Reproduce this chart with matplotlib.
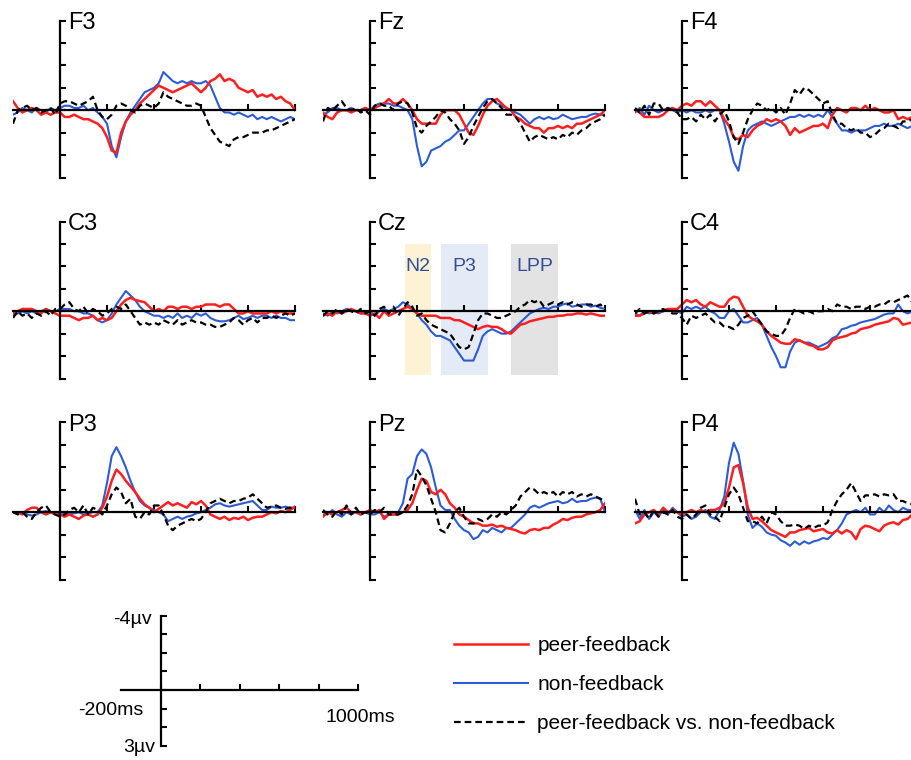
import numpy as np
import matplotlib.pyplot as plt

plt.rcParams['font.family'] = ['Liberation Sans', 'DejaVu Sans']

# time axis (ms), one sample every 20 ms
times = np.arange(-200, 1001, 20)

# amplitudes in microvolts (negative plotted upwards)
f3_peer = [-0.4, -0.1, 0.1, 0.0, -0.1, 0.0, 0.2, 0.1, 0.2, 0.1,
           0.1, 0.3, 0.3, 0.2, 0.3, 0.4, 0.4, 0.5, 0.6, 0.8,
           1.2, 1.8, 1.9, 1.0, 0.5, 0.2, 0.0, -0.3, -0.5, -0.7,
           -0.9, -1.1, -1.0, -0.9, -0.8, -0.9, -1.0, -1.1, -1.2, -1.0,
           -0.8, -1.0, -1.3, -1.4, -1.6, -1.3, -1.4, -1.3, -1.0, -0.9,
           -0.8, -0.9, -0.6, -0.7, -0.6, -0.7, -0.5, -0.6, -0.4, -0.3,
           0.0]
f3_non = [0.2, 0.1, -0.1, 0.0, 0.1, -0.1, 0.0, 0.1, -0.1, 0.0,
          -0.1, -0.2, -0.2, -0.1, -0.1, -0.2, 0.0, -0.1, 0.1, 0.3,
          0.6, 1.6, 2.1, 1.2, 0.5, 0.1, -0.2, -0.5, -0.8, -0.9,
          -1.0, -1.2, -1.7, -1.5, -1.3, -1.2, -1.3, -1.2, -1.3, -1.2,
          -1.2, -1.3, -1.1, -0.6, -0.1, 0.1, 0.1, 0.2, 0.1, 0.2,
          0.3, 0.2, 0.4, 0.3, 0.4, 0.3, 0.4, 0.5, 0.4, 0.3,
          0.4]
f3_diff = [0.6, 0.0, -0.1, -0.2, 0.0, -0.1, 0.1, 0.0, -0.1, 0.2,
           -0.3, -0.4, -0.4, -0.3, -0.2, -0.3, -0.4, -0.6, 0.0, 0.3,
           0.4, 0.2, -0.2, -0.3, -0.2, 0.0, 0.1, -0.2, -0.3, -0.2,
           -0.1, -0.3, -0.8, -0.6, -0.5, -0.4, -0.3, -0.2, -0.2, -0.3,
           -0.2, 0.3, 0.8, 1.1, 1.4, 1.5, 1.6, 1.3, 1.2, 1.2,
           1.1, 1.0, 1.0, 1.0, 0.9, 0.9, 0.8, 0.7, 0.6, 0.5,
           0.4]

fz_peer = [0.1, 0.3, 0.4, 0.1, 0.0, 0.0, 0.1, 0.0, 0.0, -0.1,
           0.0, -0.1, -0.2, -0.3, -0.5, -0.3, -0.3, -0.5, -0.3, 0.0,
           0.4, 0.6, 0.6, 0.6, 0.6, 0.2, 0.0, 0.0, 0.0, 0.2,
           0.6, 1.0, 1.1, 0.7, 0.2, -0.2, -0.4, -0.5, -0.3, -0.1,
           0.0, 0.3, 0.4, 0.6, 0.7, 0.8, 0.8, 1.0, 0.8, 0.8,
           0.7, 0.8, 0.7, 0.8, 0.6, 0.6, 0.5, 0.4, 0.3, 0.2,
           0.0]
fz_non = [0.2, 0.1, -0.1, -0.1, 0.0, 0.0, -0.1, 0.0, 0.0, -0.1,
          0.0, -0.2, -0.3, -0.3, -0.3, -0.2, -0.2, -0.1, 0.0, 0.4,
          1.6, 2.5, 2.3, 1.8, 1.7, 1.6, 1.4, 1.3, 1.1, 0.9,
          0.9, 0.6, 0.3, 0.0, -0.3, -0.5, -0.5, -0.3, -0.2, -0.1,
          0.0, 0.1, 0.2, 0.4, 0.6, 0.4, 0.3, 0.4, 0.3, 0.4,
          0.35, 0.2, 0.3, 0.4, 0.35, 0.3, 0.3, 0.2, 0.15, 0.2,
          0.2]
fz_diff = [0.5, -0.1, 0.0, -0.2, -0.4, -0.1, 0.0, -0.1, 0.1, 0.0,
           0.2, -0.2, -0.3, -0.2, -0.2, 0.0, -0.3, -0.4, -0.3, 0.1,
           0.8, 1.0, 0.7, 0.5, 0.3, 0.0, 0.1, 0.4, 0.6, 0.9,
           1.5, 1.2, 0.7, 0.3, -0.1, -0.4, -0.5, -0.3, -0.1, 0.2,
           0.2, 0.3, 0.6, 1.0, 1.4, 1.2, 1.1, 1.2, 1.3, 1.2,
           1.3, 1.1, 1.2, 1.0, 1.1, 0.9, 0.8, 0.6, 0.5, 0.4,
           0.2]

f4_peer = [0.0, 0.1, 0.3, 0.3, 0.3, 0.3, 0.2, 0.0, -0.1, 0.0,
           -0.2, -0.3, -0.2, -0.4, -0.4, -0.2, -0.4, -0.2, 0.0, 0.4,
           0.7, 1.2, 1.3, 1.1, 1.2, 0.9, 0.7, 0.6, 0.4, 0.5,
           0.4, 0.5, 0.7, 1.1, 0.8, 1.0, 0.9, 0.8, 0.7, 0.7,
           0.6, 0.8, 0.2, -0.1, 0.0, 0.1, -0.1, -0.1, 0.0, -0.2,
           0.0, -0.1, 0.0, 0.1, 0.1, 0.0, 0.4, 0.3, 0.4, 0.3,
           0.3]
f4_non = [0.1, -0.1, 0.2, -0.2, 0.0, 0.1, 0.0, -0.1, 0.0, 0.1,
          0.0, 0.1, 0.0, 0.1, 0.1, 0.0, 0.1, 0.0, 0.0, 0.6,
          1.4, 2.3, 2.7, 1.6, 0.9, 0.7, 0.6, 0.5, 0.6, 0.7,
          0.6, 0.5, 0.4, 0.3, 0.3, 0.2, 0.3, 0.2, 0.3, 0.2,
          0.3, 0.0, 0.3, 0.6, 0.9, 0.9, 1.0, 0.9, 0.9, 0.9,
          0.8, 0.7, 0.7, 0.6, 0.7, 0.7, 0.6, 0.7, 0.8, 0.7,
          0.6]
f4_diff = [-0.1, 0.1, -0.2, 0.2, -0.3, -0.3, 0.0, -0.1, 0.0, 0.1,
           0.4, 0.4, 0.3, 0.5, 0.2, 0.4, 0.2, 0.5, 0.2, 0.0,
           0.5, 1.2, 1.5, 1.0, 0.4, 0.0, -0.3, -0.2, 0.0, -0.1,
           0.1, -0.1, 0.2, -0.3, -0.9, -0.7, -1.0, -0.9, -0.7, -0.5,
           -0.3, -0.4, 0.2, 0.6, 0.6, 0.8, 0.9, 0.8, 1.0, 1.0,
           1.2, 1.1, 0.9, 0.8, 0.6, 0.7, 0.8, 0.5, 0.5, 0.4,
           0.4]

c3_peer = [0.1, 0.0, -0.1, -0.1, -0.1, 0.0, 0.1, -0.1, 0.0, 0.1,
           0.2, 0.2, 0.2, 0.3, 0.4, 0.3, 0.3, 0.2, 0.4, 0.3,
           0.4, 0.3, 0.0, -0.3, -0.5, -0.6, -0.5, -0.45, -0.4, -0.2,
           0.0, -0.1, 0.0, -0.2, -0.2, -0.1, -0.2, -0.2, -0.1, -0.2,
           -0.2, -0.3, -0.3, -0.3, -0.2, -0.3, -0.3, -0.1, 0.1, 0.1,
           0.0, 0.1, 0.1, 0.1, 0.1, 0.0, 0.1, 0.0, 0.1, 0.1,
           0.1]
c3_non = [0.2, 0.1, 0.0, 0.1, 0.0, 0.1, 0.0, -0.1, 0.0, 0.0,
          -0.1, -0.1, -0.1, 0.0, 0.0, 0.1, 0.1, 0.2, 0.4, 0.5,
          0.4, 0.1, -0.3, -0.6, -0.9, -0.7, -0.5, -0.2, 0.0, 0.1,
          0.2, 0.2, 0.3, 0.2, 0.3, 0.1, 0.3, 0.2, 0.3, 0.1,
          0.2, 0.1, 0.3, 0.4, 0.45, 0.45, 0.4, 0.3, 0.2, 0.35,
          0.3, 0.2, 0.3, 0.2, 0.2, 0.3, 0.2, 0.3, 0.3, 0.4,
          0.4]
c3_diff = [0.3, 0.0, 0.2, 0.1, 0.3, 0.1, 0.2, 0.0, 0.2, -0.1,
           -0.1, -0.3, -0.4, -0.1, 0.0, -0.2, 0.1, -0.1, 0.0, 0.2,
           0.1, -0.1, -0.2, -0.1, -0.3, 0.0, 0.3, 0.6, 0.5, 0.6,
           0.5, 0.6, 0.4, 0.5, 0.6, 0.4, 0.6, 0.5, 0.4, 0.5,
           0.5, 0.6, 0.6, 0.7, 0.7, 0.6, 0.5, 0.3, 0.4, 0.6,
           0.4, 0.3, 0.5, 0.3, 0.3, 0.2, 0.3, 0.2, 0.1, 0.2,
           0.1]

cz_peer = [0.2, 0.1, 0.2, 0.0, 0.1, 0.0, -0.1, 0.0, 0.1, 0.1,
           0.2, 0.1, 0.3, 0.0, 0.2, 0.1, 0.0, -0.1, -0.2, -0.1,
           0.1, 0.2, 0.2, 0.2, 0.2, 0.3, 0.3, 0.3, 0.4, 0.4,
           0.5, 0.6, 0.7, 0.8, 0.7, 0.65, 0.7, 0.7, 0.8, 0.95,
           1.0, 0.8, 0.6, 0.55, 0.45, 0.4, 0.35, 0.3, 0.25, 0.25,
           0.2, 0.2, 0.15, 0.15, 0.1, 0.1, 0.15, 0.1, 0.15, 0.2,
           0.2]
cz_non = [0.1, 0.2, 0.0, 0.1, 0.0, -0.1, 0.0, 0.0, 0.1, 0.0,
          0.0, 0.2, 0.0, -0.1, 0.0, -0.1, -0.2, -0.4, -0.3, -0.1,
          0.1, 0.4, 0.6, 0.9, 1.1, 1.1, 1.2, 1.3, 1.6, 1.9,
          2.2, 2.2, 2.2, 1.7, 1.1, 0.9, 0.8, 0.9, 1.0, 1.0,
          0.9, 0.7, 0.5, 0.3, 0.1, 0.0, -0.1, -0.15, -0.1, -0.2,
          -0.2, -0.3, -0.35, -0.2, -0.25, -0.3, -0.3, -0.2, -0.25, -0.15,
          -0.1]
cz_diff = [0.2, 0.0, 0.1, -0.1, 0.1, -0.1, 0.0, 0.1, -0.1, 0.1,
           0.0, 0.2, -0.1, -0.2, 0.1, -0.2, 0.2, -0.1, -0.4, -0.2,
           0.2, 0.1, 0.4, 0.6, 0.7, 0.8, 0.9, 1.0, 1.3, 1.6,
           1.7, 1.6, 1.0, 0.4, 0.1, 0.1, 0.2, 0.3, 0.3, 0.2,
           0.1, 0.0, -0.2, -0.3, -0.5, -0.4, -0.5, -0.2, -0.3, -0.4,
           -0.3, -0.4, -0.3, -0.4, -0.3, -0.2, -0.3, -0.3, -0.2, -0.3,
           -0.1]

c4_peer = [0.2, 0.2, 0.1, 0.0, 0.1, 0.0, 0.0, -0.1, -0.1, -0.1,
           -0.3, -0.5, -0.4, -0.5, -0.3, -0.2, -0.4, -0.3, -0.2, -0.2,
           -0.5, -0.65, -0.6, -0.2, 0.2, 0.35, 0.45, 0.6, 0.9, 1.1,
           1.25, 1.4, 1.45, 1.45, 1.25, 1.3, 1.4, 1.5, 1.55, 1.7,
           1.7, 1.6, 1.3, 1.2, 1.15, 1.1, 1.0, 0.95, 0.8, 0.75,
           0.7, 0.6, 0.55, 0.5, 0.45, 0.3, 0.35, 0.6, 0.55, 0.5,
           0.5]
c4_non = [0.1, 0.2, 0.0, 0.1, 0.0, 0.1, 0.0, -0.1, 0.0, 0.0,
          0.1, -0.2, -0.1, -0.2, -0.1, -0.2, 0.0, 0.1, 0.3, 0.3,
          0.0, -0.1, 0.2, 0.5, 0.5, 0.4, 0.3, 0.6, 1.1, 1.6,
          2.0, 2.5, 2.5, 1.8, 1.4, 1.3, 1.4, 1.4, 1.5, 1.6,
          1.5, 1.4, 1.2, 1.1, 0.8, 0.75, 0.65, 0.6, 0.5, 0.45,
          0.4, 0.35, 0.25, 0.15, 0.1, 0.1, -0.3, 0.0, 0.1, 0.0,
          0.0]
c4_diff = [0.1, -0.1, 0.1, 0.0, 0.1, 0.0, -0.1, 0.0, 0.1, 0.1,
           0.3, 0.6, 0.2, 0.3, 0.2, 0.1, 0.3, 0.5, 0.5, 0.7,
           0.7, 0.8, 0.6, 0.3, 0.2, 0.0, 0.3, 0.6, 0.9, 1.0,
           1.1, 1.1, 0.8, 0.3, -0.1, 0.0, 0.1, 0.0, 0.1, 0.0,
           0.0, -0.1, 0.0, -0.3, -0.2, -0.2, -0.1, -0.2, -0.2, -0.1,
           -0.2, -0.2, -0.3, -0.3, -0.45, -0.4, -0.5, -0.6, -0.7, -0.4,
           -0.3]

p3_peer = [0.0, 0.0, 0.1, -0.1, -0.2, -0.2, 0.0, 0.1, 0.0, 0.1,
           0.1, 0.2, 0.1, 0.2, 0.3, 0.15, 0.1, 0.2, 0.1, -0.2,
           -0.7, -1.4, -1.9, -1.7, -1.4, -1.15, -0.9, -0.6, -0.35, -0.2,
           0.0, -0.15, -0.3, -0.45, -0.3, -0.4, -0.3, -0.2, -0.45, -0.35,
           -0.5, -0.3, 0.1, 0.2, 0.3, 0.2, 0.35, 0.25, 0.3, 0.2,
           0.35, 0.25, 0.2, 0.2, 0.1, 0.0, 0.05, -0.05, 0.0, -0.1,
           -0.25]
p3_non = [0.0, 0.05, 0.0, 0.1, 0.15, 0.1, 0.0, -0.05, 0.0, 0.05,
          0.0, 0.05, 0.1, 0.05, 0.0, 0.1, 0.05, 0.0, 0.0, -0.3,
          -1.3, -2.5, -2.9, -2.5, -2.0, -1.4, -0.9, -0.5, -0.3, -0.2,
          -0.1, 0.0, 0.1, 0.4, 0.3, 0.2, 0.3, 0.2, 0.15, 0.05,
          0.0, -0.1, -0.2, -0.35, -0.4, -0.3, -0.25, -0.3, -0.35, -0.4,
          -0.45, -0.5, -0.3, -0.1, -0.1, -0.25, -0.2, -0.2, -0.25, -0.2,
          -0.2]
p3_diff = [0.0, 0.1, 0.0, 0.2, 0.3, 0.0, -0.2, -0.3, 0.0, 0.1,
           0.2, 0.1, -0.1, -0.2, 0.0, -0.3, 0.1, -0.2, -0.1, 0.1,
           -0.3, -0.8, -1.1, -0.9, -0.4, -0.6, 0.2, 0.3, 0.0, 0.1,
           -0.3, -0.3, 0.1, 0.6, 0.8, 0.6, 0.5, 0.4, 0.3, 0.4,
           0.3, 0.0, -0.4, -0.5, -0.6, -0.5, -0.4, -0.5, -0.5, -0.6,
           -0.65, -0.8, -0.6, -0.4, -0.2, -0.25, -0.3, -0.2, -0.15, -0.2,
           -0.2]

pz_peer = [0.2, 0.0, 0.1, 0.0, -0.1, -0.2, 0.0, 0.0, 0.1, 0.0,
           -0.1, 0.0, -0.1, 0.3, 0.1, 0.1, 0.1, 0.0, -0.1, -0.4,
           -1.0, -1.5, -1.4, -0.9, -0.8, -1.0, -0.8, -0.4, -0.2, 0.1,
           0.2, 0.35, 0.5, 0.5, 0.6, 0.6, 0.55, 0.65, 0.6, 0.7,
           0.75, 0.8, 0.9, 0.95, 0.8, 0.75, 0.8, 0.7, 0.7, 0.55,
           0.45, 0.3, 0.35, 0.25, 0.2, 0.2, 0.1, 0.05, 0.0, -0.1,
           -0.4]
pz_non = [0.1, 0.1, -0.1, 0.1, 0.2, 0.0, 0.1, 0.0, 0.1, 0.0,
          0.1, 0.1, 0.0, 0.2, 0.1, 0.1, 0.0, -0.4, -1.5, -1.7,
          -2.5, -2.8, -2.6, -2.0, -1.1, -0.3, -0.1, -0.1, 0.3, 0.6,
          0.8, 0.9, 1.2, 1.1, 0.8, 0.9, 0.7, 0.8, 0.9, 0.7,
          0.7, 0.5, 0.3, 0.1, -0.2, -0.3, -0.2, -0.3, -0.4, -0.45,
          -0.5, -0.4, -0.45, -0.6, -0.45, -0.5, -0.5, -0.6, -0.65, -0.6,
          0.0]
pz_diff = [-0.1, 0.1, 0.2, -0.1, 0.1, -0.3, 0.1, -0.2, 0.1, 0.0,
           0.1, -0.1, 0.0, -0.2, 0.1, 0.1, 0.1, 0.0, -0.3, -0.8,
           -1.9, -1.6, -1.2, -0.6, 0.0, 0.8, 0.9, 0.5, 0.0, -0.2,
           0.2, 0.5, 0.5, 0.3, 0.4, 0.3, 0.1, 0.2, 0.0, 0.1,
           -0.1, -0.3, -0.7, -0.9, -1.1, -1.0, -0.8, -0.9, -0.8, -0.9,
           -0.7, -0.9, -0.8, -0.9, -0.7, -0.8, -0.7, -0.8, -0.7, -0.6,
           -0.5]

p4_peer = [0.5, 0.4, 0.1, 0.0, -0.1, 0.1, -0.2, 0.0, -0.1, 0.0,
           0.1, 0.0, -0.1, 0.0, -0.1, 0.0, -0.1, -0.1, -0.2, -0.4,
           -1.1, -2.0, -2.1, -1.3, -0.2, 0.3, 0.25, 0.4, 0.6, 0.8,
           0.9, 1.0, 1.1, 0.9, 0.9, 0.8, 0.75, 0.7, 0.85, 0.8,
           0.75, 0.9, 0.95, 0.8, 0.95, 0.8, 0.9, 1.2, 0.75, 0.6,
           0.65, 0.75, 0.85, 0.6, 0.5, 0.45, 0.55, 0.35, 0.3, 0.1,
           0.1]
p4_non = [-0.1, 0.3, -0.1, 0.3, 0.0, 0.2, -0.1, 0.1, -0.2, 0.0,
          0.2, 0.1, 0.3, 0.2, 0.0, -0.1, 0.2, 0.3, -0.1, -0.7,
          -2.2, -3.1, -2.6, -1.4, 0.1, 0.7, 0.5, 0.65, 0.9, 1.0,
          1.05, 1.25, 1.35, 1.5, 1.3, 1.45, 1.3, 1.4, 1.3, 1.25,
          1.15, 1.2, 1.0, 0.8, 0.5, 0.1, 0.0, -0.1, 0.0, -0.2,
          0.1, 0.1, -0.2, 0.0, -0.3, -0.1, 0.0, -0.2, -0.1, -0.1,
          -0.1]
p4_diff = [-0.6, 0.1, 0.0, 0.3, -0.1, 0.2, 0.0, 0.1, -0.1, 0.2,
           0.3, 0.1, 0.3, 0.1, -0.2, -0.3, 0.1, 0.2, 0.4, -0.2,
           -0.8, -1.1, -0.8, -0.2, 0.4, 0.4, 0.5, 0.2, 0.5, 0.0,
           0.1, 0.4, 0.6, 0.6, 0.55, 0.6, 0.75, 0.6, 0.7, 0.6,
           0.6, 0.45, -0.1, -0.5, -0.8, -1.0, -1.3, -0.9, -0.5, -0.75,
           -0.75, -0.8, -0.7, -0.8, -0.75, -0.8, -0.5, -0.5, -0.4, -0.35,
           -0.35]

panels = [
    ("F3", f3_peer, f3_non, f3_diff), ("Fz", fz_peer, fz_non, fz_diff), ("F4", f4_peer, f4_non, f4_diff),
    ("C3", c3_peer, c3_non, c3_diff), ("Cz", cz_peer, cz_non, cz_diff), ("C4", c4_peer, c4_non, c4_diff),
    ("P3", p3_peer, p3_non, p3_diff), ("Pz", pz_peer, pz_non, pz_diff), ("P4", p4_peer, p4_non, p4_diff),
]

# analysis windows marked on Cz (ms)
window_names = ["N2", "P3", "LPP"]
window_start = [150, 300, 600]
window_end = [260, 500, 800]
window_colors = ["#fdf3d4", "#e5ebf6", "#e3e3e3"]

labels = ["peer-feedback", "non-feedback", "peer-feedback vs. non-feedback"]
RED = "#ff1f1f"
BLUE = "#2b5bd7"

W, H = 911, 760
fig = plt.figure(figsize=(W / 100, H / 100), dpi=100)


def px_axes(left, top, width, height):
    return fig.add_axes([left / W, 1 - (top + height) / H, width / W, height / H])


def style_axes(ax):
    for side in ("top", "right"):
        ax.spines[side].set_visible(False)
    ax.spines["left"].set_position(("data", 0))
    ax.spines["bottom"].set_position(("data", 0))
    ax.spines["left"].set_bounds(-4, 3)
    ax.spines["bottom"].set_bounds(-200, 1000)
    for side in ("left", "bottom"):
        ax.spines[side].set_linewidth(1.6)
    ax.set_xlim(-200, 1000)
    ax.set_ylim(3, -4)
    ax.set_xticks(range(0, 1001, 200))
    ax.set_yticks(range(-4, 4))
    ax.tick_params(direction="in", length=4, width=1.5,
                   labelbottom=False, labelleft=False)
    ax.patch.set_alpha(0)


col_left = [13, 323, 635]
row_top = [20.5, 221.5, 422.5]
handles = None

for i, (name, peer, non, diff) in enumerate(panels):
    r, c = divmod(i, 3)
    ax = px_axes(col_left[c], row_top[r], 282, 157)
    style_axes(ax)
    if name == "Cz":
        for wn, ws, we, wc in zip(window_names, window_start, window_end, window_colors):
            ax.fill_between([ws, we], -3.0, 2.85, color=wc, lw=0, zorder=0)
            ax.text((ws + we) / 2, -2.0, wn, ha="center", va="center",
                    fontsize=14, color="#2f4d9c", zorder=1)
    l2, = ax.plot(times, non, color=BLUE, lw=1.5)
    l1, = ax.plot(times, peer, color=RED, lw=1.8)
    l3, = ax.plot(times, diff, color="black", lw=1.6, ls=(0, (3, 1.8)))
    ax.text(34, -3.6, name, fontsize=17, ha="left", va="baseline")
    if handles is None:
        handles = [l1, l2, l3]

# scale bar
sax = px_axes(121, 615.7, 237, 130)
style_axes(sax)
sax.text(-43, -3.77, "-4µv", fontsize=14, ha="right", va="center")
sax.text(-28, 3.12, "3µv", fontsize=14, ha="right", va="center")
sax.text(-251, 1.08, "-200ms", fontsize=14, ha="center", va="center")
sax.text(1010, 1.5, "1000ms", fontsize=14, ha="center", va="center")

fig.legend(handles, labels, loc="upper left", bbox_to_anchor=(454 / W, 1 - 636 / H),
           frameon=False, fontsize=15, handlelength=3.55, handletextpad=0.45,
           labelspacing=0.96, borderpad=0, borderaxespad=0)

fig.savefig("out.png", dpi=100)
